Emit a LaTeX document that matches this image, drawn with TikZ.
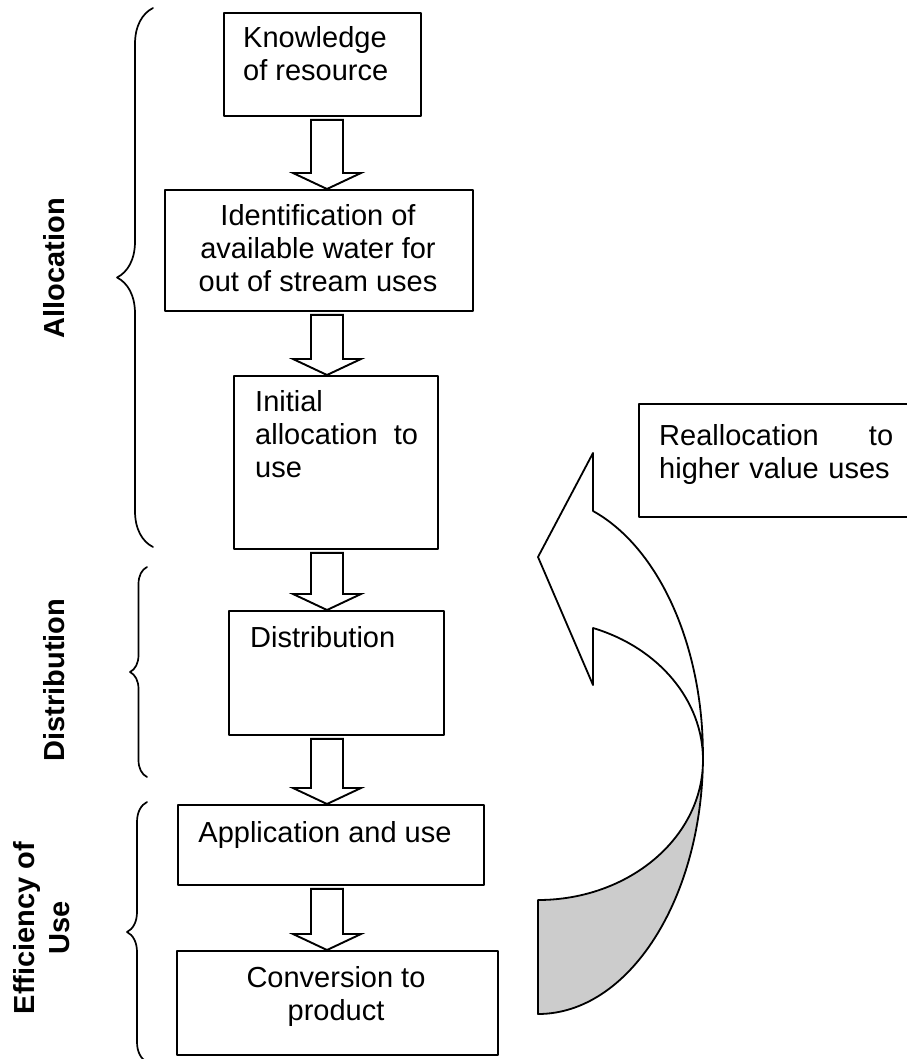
\documentclass[tikz,border=0pt]{standalone}
\usepackage{fontspec}
\setmainfont{Liberation Sans}
\usetikzlibrary{calc,decorations.pathreplacing}

\tikzset{
  box/.style={draw, line width=1.9pt, anchor=north west, inner sep=0pt},
  txt/.style={inner sep=0pt, align=left, font=\fontsize{29}{33}\selectfont},
  side/.style={inner sep=0pt, align=center, rotate=90, font=\bfseries\fontsize{29}{35}\selectfont},
  blockarrow/.style={draw, fill=white, line width=1.9pt, line join=miter},
  bracket/.style={decorate, decoration={brace, amplitude=#1}, line width=1.7pt},
}

\begin{document}
\begin{tikzpicture}[x=1pt, y=-1pt, line cap=round, line join=round]
  \fill[white] (0,0) rectangle (906,1059);
  \useasboundingbox (0,0) rectangle (906,1059);
  % The chain of stages, top to bottom; each box is left empty and its
  % text is set near the top, as in a word-processor text box.
  \node[box, minimum width=197pt, minimum height=103pt] (know) at (223,12) {};
  \node[box, minimum width=308pt, minimum height=121pt] (ident) at (164,189) {};
  \node[box, minimum width=204pt, minimum height=173pt] (init) at (233,375) {};
  \node[box, minimum width=215pt, minimum height=124pt] (dist) at (228,610) {};
  \node[box, minimum width=306pt, minimum height=80pt] (apply) at (177,804) {};
  \node[box, minimum width=321pt, minimum height=104pt] (conv) at (176,950) {};
  % The box on the right runs off the edge of the page.
  \node[box, minimum width=274pt, minimum height=113pt] (realloc) at (638,403) {};

  \node[txt, anchor=north west] (know-t) at (243,26) {Knowledge\\of resource};
  \node[txt, anchor=north, align=center] (ident-t) at (318,204)
    {Identification of\\available water for\\out of stream uses};
  \node[txt, anchor=north west] (init-t) at (255,390) {Initial\\allocation~ to\\use};
  \node[txt, anchor=north west] (dist-t) at (250,626) {Distribution};
  \node[txt, anchor=north] (apply-t) at (325,821) {Application and use};
  \node[txt, anchor=north, align=center] (conv-t) at (336,966) {Conversion to\\product};
  \node[txt, anchor=north west, text width=234pt] (realloc-t) at (659,424)
    {Reallocation\hfill to\\higher value uses};

  % Hollow block arrows from one stage down to the next, all on one column.
  \coordinate (col) at (327,0);
  \foreach \a/\b in {know/ident, ident/init, init/dist, dist/apply, apply/conv} {
    \path (\a.south -| col) coordinate (top) (\b.north -| col) coordinate (tip);
    \draw[blockarrow] ($(top)+(-16,3)$) -- ($(tip)+(-16,-16)$) -- ++(-18,0) -- (tip)
      -- ++(34,-16) -- ++(-18,0) -- ($(top)+(16,3)$) -- cycle;
  }

  % Braces grouping the stages, with their names set sideways.
  \draw[bracket=36] (153,547) -- (153,8);
  \draw[bracket=17] (147,777) -- (147,567);
  \draw[bracket=20] (147,1062) -- (147,802);
  \node[side] (alloc-l) at (54,268) {Allocation};
  \node[side] (dist-l) at (54,680) {Distribution};
  \node[side] (eff-l) at (42,928) {Efficiency of\\Use};

  % The curved return arrow: the shaded back of the band first, then the
  % front of the band with its head pointing left.
  \draw[line width=1.8pt, fill=black!20] (538,900)
    arc[start angle=90, end angle=0, x radius=165, y radius=140] -- (703,755)
    arc[start angle=0, end angle=90, x radius=165, y radius=259] -- cycle;
  \draw[line width=1.8pt, fill=white] (538,557) -- (593,453) -- (593,511)
    arc[start angle=-70.5, end angle=0, x radius=165, y radius=259] -- (703,760)
    arc[start angle=0, end angle=-70.5, x radius=165, y radius=140] -- (593,685) -- cycle;
\end{tikzpicture}
\end{document}
